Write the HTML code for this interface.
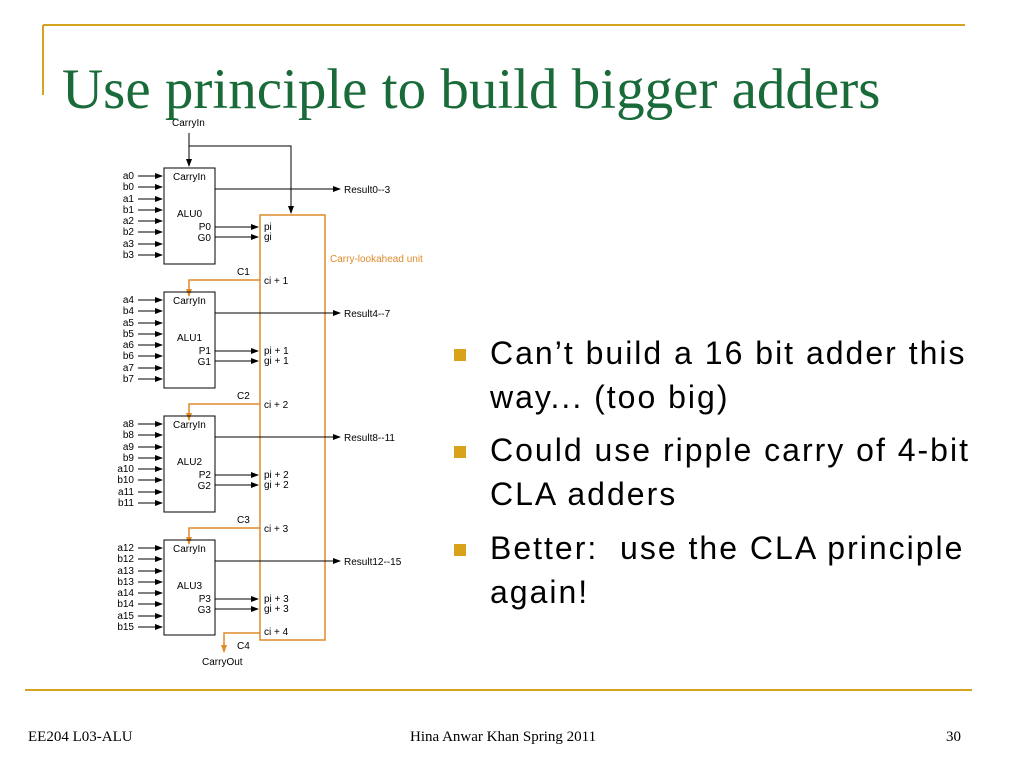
<!DOCTYPE html>
<html><head><meta charset="utf-8"><style>
body{margin:0;width:1024px;height:768px;background:#fff;overflow:hidden;position:relative;font-family:"Liberation Sans",sans-serif}
.t{position:absolute;left:62px;top:61px;font-family:"Liberation Serif",serif;font-size:57px;color:#1a6b3a;white-space:nowrap;line-height:1}
.b{position:absolute;left:490px;font-size:32px;letter-spacing:2px;color:#000;line-height:44px;white-space:nowrap}
.sq{position:absolute;left:454px;width:12px;height:12px;background:#d9a21b}
.f{position:absolute;top:729px;font-family:"Liberation Serif",serif;font-size:15px;color:#000}
</style></head><body>
<svg width="1024" height="768" style="position:absolute;left:0;top:0">
<defs>
<marker id="k" markerWidth="8" markerHeight="6" refX="7" refY="3" orient="auto" markerUnits="userSpaceOnUse"><path d="M0,0L8,3L0,6z" fill="#000"/></marker>
<marker id="o" markerWidth="8" markerHeight="6" refX="7" refY="3" orient="auto" markerUnits="userSpaceOnUse"><path d="M0,0L8,3L0,6z" fill="#e08a2a"/></marker>
</defs>
<line x1="43" y1="25" x2="965" y2="25" stroke="#d4a421" stroke-width="2"/>
<line x1="43" y1="25" x2="43" y2="95" stroke="#d4a421" stroke-width="2"/>
<line x1="25" y1="690" x2="972" y2="690" stroke="#d4a421" stroke-width="2"/>
<g font-family="Liberation Sans,sans-serif" font-size="10" fill="#000">
<text x="172" y="126">CarryIn</text>
<path d="M189,133V166" stroke="#000" fill="none" marker-end="url(#k)"/>
<path d="M189,146H291V213" stroke="#000" fill="none" marker-end="url(#k)"/>
<rect x="260" y="215" width="65" height="425" fill="none" stroke="#e08a2a" stroke-width="1.5"/>
<text x="330" y="262" fill="#e08a2a">Carry-lookahead unit</text>
<g id="blocks"></g>
<path d="M260,633H224V652" stroke="#e08a2a" fill="none" stroke-width="1.5" marker-end="url(#o)"/>
<text x="202" y="665">CarryOut</text>
</g>
</svg>
<div class="t">Use principle to build bigger adders</div>
<div class="sq" style="top:349px"></div><div class="b" style="top:331px">Can’t build a 16 bit adder this<br>way... (too big)</div>
<div class="sq" style="top:446px"></div><div class="b" style="top:428px">Could use ripple carry of 4-bit<br>CLA adders</div>
<div class="sq" style="top:544px"></div><div class="b" style="top:526px">Better:&nbsp; use the CLA principle<br>again!</div>
<div class="f" style="left:28px">EE204 L03-ALU</div>
<div class="f" style="left:410px">Hina Anwar Khan Spring 2011</div>
<div class="f" style="left:946px">30</div>
<script>
var g=document.getElementById('blocks'),s='';
var res=['Result0--3','Result4--7','Result8--11','Result12--15'];
var sf=['','+ 1','+ 2','+ 3'];
for(var k=0;k<4;k++){var b=124*k;
s+='<rect x="164" y="'+(168+b)+'" width="51" height="'+(96+(k==3?-1:0))+'" fill="none" stroke="#000"/>';
var ys=[176,187,199,210,221,232,244,255];
for(var i=0;i<8;i++){var y=ys[i]+b;var n=(i%2?'b':'a')+(4*k+(i>>1));
s+='<text x="134" y="'+(y+3)+'" text-anchor="end">'+n+'</text><line x1="138" y1="'+y+'" x2="162" y2="'+y+'" stroke="#000" marker-end="url(#k)"/>';}
s+='<text x="173" y="'+(180+b)+'">CarryIn</text>';
s+='<line x1="215" y1="'+(189+b)+'" x2="340" y2="'+(189+b)+'" stroke="#000" marker-end="url(#k)"/><text x="344" y="'+(193+b)+'">'+res[k]+'</text>';
s+='<text x="177" y="'+(217+b)+'">ALU'+k+'</text><text x="211" y="'+(230+b)+'" text-anchor="end">P'+k+'</text><text x="211" y="'+(241+b)+'" text-anchor="end">G'+k+'</text>';
s+='<line x1="215" y1="'+(227+b)+'" x2="258" y2="'+(227+b)+'" stroke="#000" marker-end="url(#k)"/><line x1="215" y1="'+(237+b)+'" x2="258" y2="'+(237+b)+'" stroke="#000" marker-end="url(#k)"/>';
s+='<text x="264" y="'+(230+b)+'">pi '+sf[k]+'</text><text x="264" y="'+(240+b)+'">gi '+sf[k]+'</text>';
s+='<text x="237" y="'+(275+b-(k==3?-2:0))+'">C'+(k+1)+'</text>';
if(k<3){s+='<text x="264" y="'+(284+b)+'">ci + '+(k+1)+'</text><path d="M260,'+(280+b)+'H189V'+(296+b)+'" stroke="#e08a2a" stroke-width="1.5" fill="none" marker-end="url(#o)"/>';}
else{s+='<text x="264" y="635">ci + 4</text>';}
}
g.innerHTML=s;
</script>
</body></html>
